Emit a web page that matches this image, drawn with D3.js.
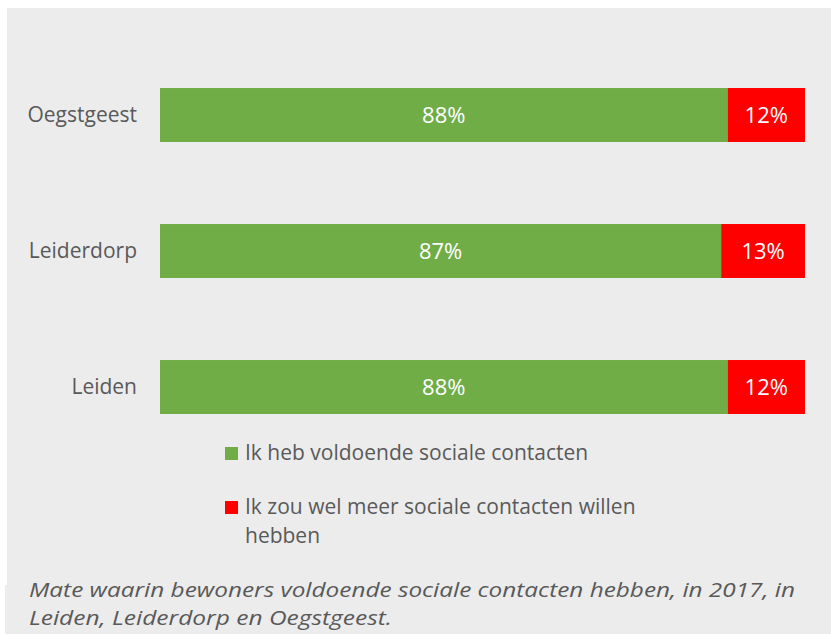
<!DOCTYPE html>
<html><head><meta charset="utf-8">
<script src="https://cdn.jsdelivr.net/npm/d3@7"></script>
<style>body{margin:0;background:#fff}svg{display:block}text{font-family:"Open Sans",Lato,sans-serif}</style>
</head><body>
<script>
const categories = ["Oegstgeest", "Leiderdorp", "Leiden"];
const seriesNames = ["Ik heb voldoende sociale contacten", "Ik zou wel meer sociale contacten willen hebben"];
const voldoende = [88, 87, 88];
const meer = [12, 13, 12];
const colors = ["#70ad47", "#ff0000"];
const captionLines = ["Mate waarin bewoners voldoende sociale contacten hebben, in 2017,  in", "Leiden, Leiderdorp en Oegstgeest."];

const W = 831, H = 636;
const FONT = "'Open Sans',Lato,sans-serif";
const svg = d3.select("body").append("svg").attr("width", W).attr("height", H);
svg.append("rect").attr("x", 7).attr("y", 8).attr("width", W - 7).attr("height", 577).attr("fill", "#ececec");
svg.append("rect").attr("x", 5).attr("y", 585).attr("width", W - 5).attr("height", 49).attr("fill", "#ececec");

const x = d3.scaleLinear().domain([0, 100]).range([160, 805]);
const y = d3.scaleBand().domain(categories).range([47, 455]).paddingInner(0.6032).paddingOuter(0.3016);

const data = categories.map((c, i) => ({cat: c, vals: [voldoende[i], meer[i]]}));
const stack = data.flatMap(d => {
  let s = 0;
  return d.vals.map((v, k) => { const o = {cat: d.cat, k, x0: s, x1: s + v, v}; s += v; return o; });
});

svg.selectAll("rect.bar").data(stack).join("rect").attr("class", "bar")
  .attr("x", d => x(d.x0)).attr("width", d => x(d.x1) - x(d.x0))
  .attr("y", d => y(d.cat)).attr("height", y.bandwidth())
  .attr("fill", d => colors[d.k]);

svg.selectAll("text.val").data(stack).join("text").attr("class", "val")
  .attr("x", d => (x(d.x0) + x(d.x1)) / 2).attr("y", d => y(d.cat) + y.bandwidth() / 2)
  .attr("dy", "0.36em").attr("text-anchor", "middle").attr("fill", "#fff")
  .attr("font-size", 22).text(d => d.v + "%");

const yAxis = d3.axisLeft(y).tickSize(0).tickPadding(23);
const ga = svg.append("g").attr("transform", "translate(160,0)").call(yAxis);
ga.select(".domain").remove();
ga.selectAll("text").attr("font-size", 21).attr("fill", "#595959").attr("font-family", FONT);

// legend
const leg = svg.append("g");
const legY = [447, 501];
const legLines = [[seriesNames[0]], ["Ik zou wel meer sociale contacten willen", "hebben"]];
legY.forEach((ly, i) => {
  leg.append("rect").attr("x", 225).attr("y", ly).attr("width", 13).attr("height", 13).attr("fill", colors[i]);
  const t = leg.append("text").attr("x", 245).attr("y", ly + 13).attr("font-size", 21).attr("fill", "#595959");
  legLines[i].forEach((l, j) => t.append("tspan").attr("x", 245).attr("dy", j ? 29 : 0).text(l));
});

// caption
const capW = [766, 363];
captionLines.forEach((l, i) => {
  svg.append("text").attr("x", 29).attr("y", 597 + i * 28).attr("font-size", 20.5)
    .attr("font-style", "italic").attr("fill", "#595959")
    .attr("textLength", capW[i]).attr("lengthAdjust", "spacingAndGlyphs").text(l);
});
</script>
</body></html>
